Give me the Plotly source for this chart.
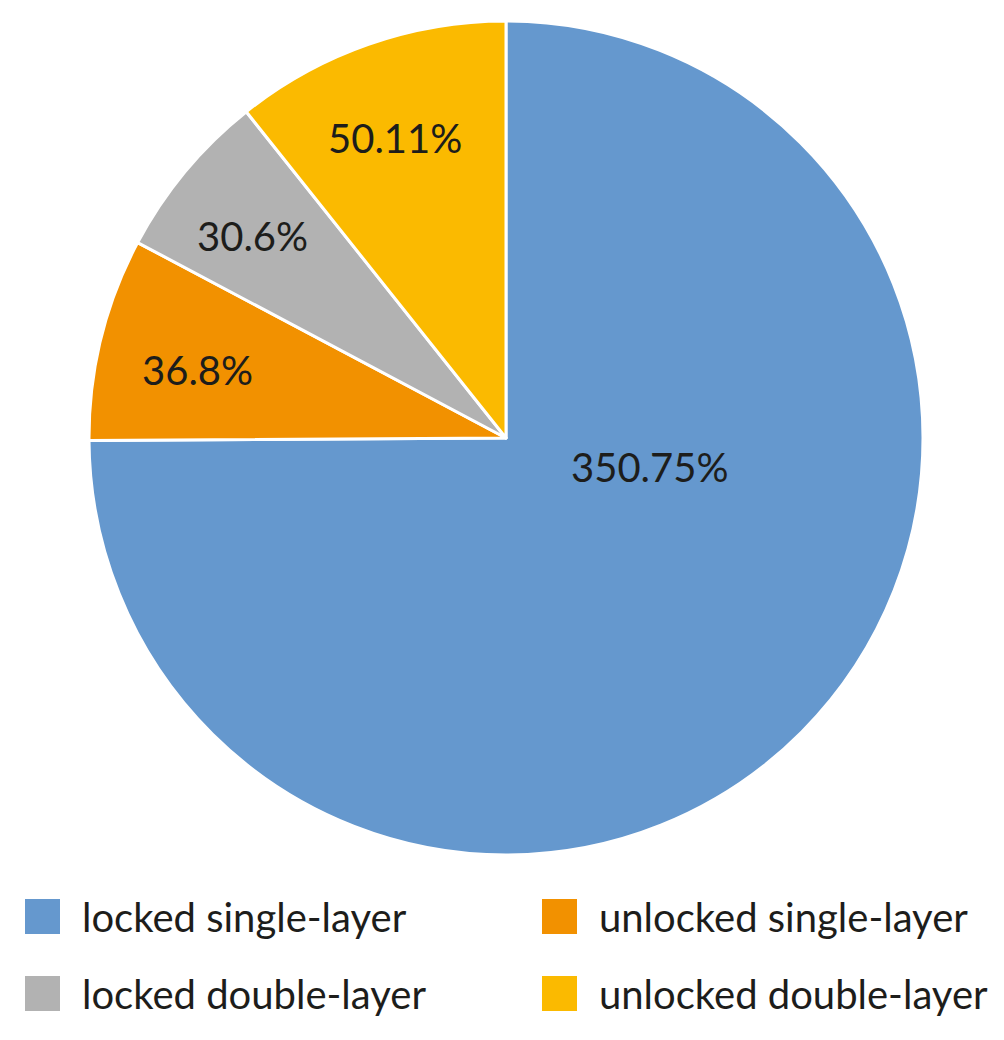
import plotly.graph_objects as go

categories = ["locked single-layer", "unlocked single-layer", "locked double-layer", "unlocked double-layer"]
values = [350.75, 36.8, 30.6, 50.11]
value_labels = ["350.75%", "36.8%", "30.6%", "50.11%"]
colors = ["#6598CE", "#F29100", "#B2B2B2", "#FBBA00"]

W, H = 1004, 1040
FONT = "Lato"
TXT = "#1d1d1b"

def px(x):
    return x / W

def py(y):
    return 1 - y / H

cx, cy, r = 506, 438, 417

fig = go.Figure(go.Pie(
    labels=categories,
    values=values,
    marker=dict(colors=colors, line=dict(color="white", width=3)),
    sort=False,
    direction="clockwise",
    rotation=0,
    textinfo="none",
    hoverinfo="label+value",
    domain=dict(x=[px(cx - r), px(cx + r)], y=[py(cy + r), py(cy - r)]),
    showlegend=False,
))

# value labels placed like the original
label_pos = [(650, 467), (197, 370), (252, 236), (395, 138)]
for txt, (lx, ly) in zip(value_labels, label_pos):
    fig.add_annotation(x=px(lx), y=py(ly), xref="paper", yref="paper",
                       text=txt, showarrow=False, xanchor="center", yanchor="middle",
                       font=dict(family=FONT, size=40, color=TXT))

# legend built from shapes + text
legend_pos = [(25, 899), (542, 899), (25, 976), (542, 976)]
sq = 35
for name, col, (lx, ly) in zip(categories, colors, legend_pos):
    fig.add_shape(type="rect", xref="paper", yref="paper",
                  x0=px(lx), x1=px(lx + sq), y0=py(ly + sq), y1=py(ly),
                  fillcolor=col, line=dict(width=0))
    fig.add_annotation(x=px(lx + 55), y=py(ly + sq / 2), xref="paper", yref="paper",
                       text=name, showarrow=False, xanchor="left", yanchor="middle",
                       font=dict(family=FONT, size=40, color=TXT))

fig.update_layout(
    width=W, height=H,
    margin=dict(l=0, r=0, t=0, b=0),
    paper_bgcolor="white",
    plot_bgcolor="white",
)

fig.write_html("out.html")
